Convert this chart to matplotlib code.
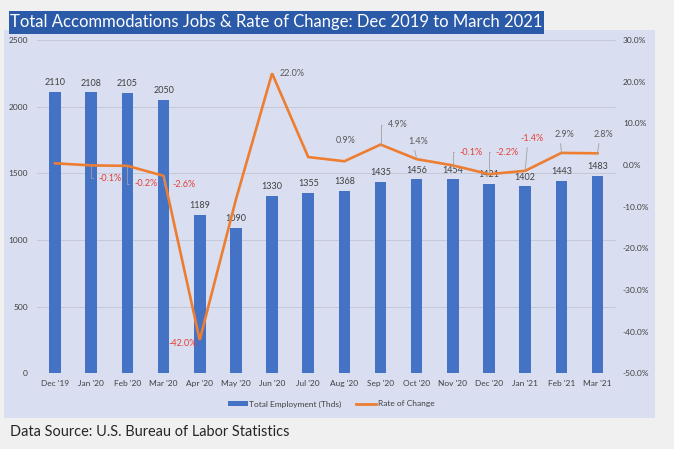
import matplotlib
matplotlib.use('Agg')
import matplotlib.pyplot as plt
from matplotlib.patches import Rectangle
from matplotlib.lines import Line2D
from matplotlib.patches import Patch
from matplotlib.ticker import MultipleLocator, FuncFormatter
import numpy as np

# ---------------- data ----------------
months = ["Dec '19", "Jan '20", "Feb '20", "Mar '20", "Apr '20", "May '20", "Jun '20", "Jul '20",
          "Aug '20", "Sep '20", "Oct '20", "Nov '20", "Dec '20", "Jan '21", "Feb '21", "Mar '21"]
employment = [2110, 2108, 2105, 2050, 1189, 1090, 1330, 1355, 1368, 1435, 1456, 1454, 1421, 1402, 1443, 1483]
rate_of_change = [0.4, -0.1, -0.2, -2.6, -42.0, -8.3, 22.0, 1.9, 0.9, 4.9, 1.4, -0.1, -2.2, -1.4, 2.9, 2.8]

title = "Total Accommodations Jobs & Rate of Change: Dec 2019 to March 2021"
source = "Data Source: U.S. Bureau of Labor Statistics"

# label layout (pixel offsets from point, leader style) -- style only
rate_label_layout = {
    1: (19, -13, 'elbow'), 2: (19, -18, 'elbow'), 3: (20, -9, 'elbow'),
    4: (-17, -4, None), 6: (20, 0, None), 8: (1, 21, None),
    9: (17, 20, 'elbow'), 10: (1, 17.5, 'straight'), 11: (18, 13, 'elbow'),
    12: (18, 22, 'elbow'), 13: (7, 32, 'straight'), 14: (3, 18, 'straight'),
    15: (6, 18.5, 'straight'),
}

W, H = 674, 449
FONT = 'Lato'
plt.rcParams['font.family'] = [FONT, 'DejaVu Sans']

fig = plt.figure(figsize=(W / 100, H / 100), dpi=100, facecolor='#F0F0F0')

def fx(px):
    return px / W

def fy(py):
    return 1 - py / H

# panel background
fig.patches.append(Rectangle((fx(4), fy(418)), fx(651), 388 / H, transform=fig.transFigure,
                             facecolor='#D9DFF0', edgecolor='none', zorder=-10))
# title box
fig.patches.append(Rectangle((fx(9), fy(33.7)), fx(535.3), 22.7 / H, transform=fig.transFigure,
                             facecolor='#2B5AA8', edgecolor='none', zorder=-9))

ax = fig.add_axes([fx(37), fy(373.3), fx(578.6), 333.3 / H])
ax.set_zorder(2)
ax.set_facecolor('none')
x = np.arange(len(months))
ax.bar(x, employment, width=0.32, color='#4472C4', zorder=2, label='Total Employment (Thds)')
ax.set_xlim(-0.5, len(months) - 0.5)
ax.set_ylim(0, 2500)
ax.yaxis.set_major_locator(MultipleLocator(500))
ax.grid(axis='y', color='#C5C9D6', lw=0.7, zorder=0)
ax.set_axisbelow(True)
for s in ax.spines.values():
    s.set_visible(False)
ax.set_xticks(x)
ax.set_xticklabels(months)
ax.tick_params(axis='both', length=0, labelsize=6, labelcolor='#404040')
ax.tick_params(axis='y', pad=6.5)
ax.tick_params(axis='x', pad=5)

for xi, v in zip(x, employment):
    ax.annotate(str(v), (xi, v), xytext=(0, 9), textcoords='offset pixels',
                ha='center', va='center', fontsize=6.5, color='#404040', zorder=4)

ax2 = ax.twinx()
ax2.set_zorder(3)
ax2.set_facecolor('none')
ax2.set_ylim(-50, 30)
ax2.yaxis.set_major_locator(MultipleLocator(10))
ax2.yaxis.set_major_formatter(FuncFormatter(lambda v, p: f"{v:.1f}%"))
for s in ax2.spines.values():
    s.set_visible(False)
ax2.tick_params(axis='y', length=0, labelsize=6, labelcolor='#404040', pad=5.3)
ax2.plot(x, rate_of_change, color='#ED7D31', lw=1.9, zorder=3, label='Rate of Change',
         solid_joinstyle='miter')

for i, (dx, dy, leader) in rate_label_layout.items():
    r = rate_of_change[i]
    col = '#E5403A' if r < 0 else '#595959'
    kw = {}
    if leader == 'elbow':
        kw['arrowprops'] = dict(arrowstyle='-', color='#A0A0A0', lw=0.6, shrinkA=2, shrinkB=0,
                                relpos=(0, 0.5), connectionstyle='angle,angleA=0,angleB=90,rad=0')
    elif leader == 'straight':
        kw['arrowprops'] = dict(arrowstyle='-', color='#A0A0A0', lw=0.6, shrinkA=1, shrinkB=0,
                                relpos=(0.3, 0), connectionstyle='arc3')
    ax2.annotate(f"{r:.1f}%", (i, r), xytext=(dx, dy), textcoords='offset pixels',
                 ha='center', va='center', fontsize=6.5, color=col, zorder=5, **kw)

handles = [Patch(facecolor='#4472C4', edgecolor='none'),
           Line2D([0], [0], color='#ED7D31', lw=2)]
fig.legend(handles, ['Total Employment (Thds)', 'Rate of Change'], loc='center',
           bbox_to_anchor=(fx(331), fy(404)), ncol=2, frameon=False, fontsize=6,
           handlelength=2.4, handleheight=0.5, handletextpad=0.2, columnspacing=1.7,
           labelcolor='#404040')

t = fig.text(fx(10.5), fy(22.5), title, color='white', ha='left', va='center', fontsize=13, zorder=5)
s = fig.text(fx(10), fy(432), source, color='#262626', ha='left', va='center', fontsize=10)
fig.canvas.draw()
r = fig.canvas.get_renderer()
for txt, target in ((t, 532), (s, 279)):
    w = txt.get_window_extent(r).width
    txt.set_fontsize(txt.get_fontsize() * target / w)

fig.savefig('out.png', dpi=100, facecolor=fig.get_facecolor())
